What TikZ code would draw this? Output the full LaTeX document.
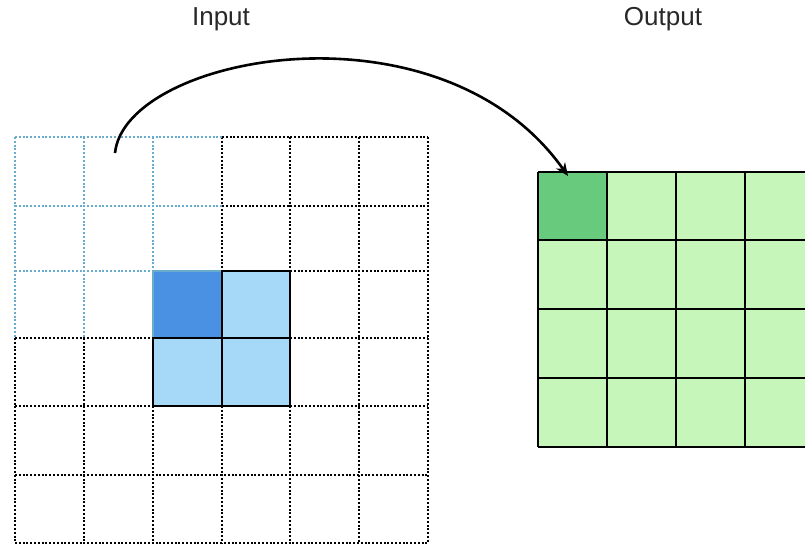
\documentclass[tikz,border=0pt]{standalone}
\usepackage{fontspec}
\setmainfont{Liberation Sans}
\usetikzlibrary{arrows.meta}
\definecolor{gridblue}{RGB}{105,172,205}
\definecolor{darkblue}{RGB}{74,145,228}
\definecolor{lightblue}{RGB}{166,216,248}
\definecolor{lightgreen}{RGB}{198,246,186}
\definecolor{darkgreen}{RGB}{103,202,124}
\definecolor{labelgray}{RGB}{40,40,40}
\tikzset{
  blackdot/.style={black, line width=2.2pt, dash pattern=on 2pt off 1.8pt},
  bluedot/.style={gridblue, line width=2.2pt, dash pattern=on 2pt off 1.8pt},
  solidedge/.style={black, line width=2.8pt, line cap=rect},
  outedge/.style={black, line width=2.5pt},
  title/.style={font=\fontsize{26}{31}\selectfont, text=labelgray, inner sep=0pt},
  arrowline/.style={black, line width=2.6pt, -{Stealth[length=13pt,width=11pt]}}
}
\begin{document}
\begin{tikzpicture}[x=1pt,y=-1pt]
\useasboundingbox (0,0) rectangle (805,544);
% column / row positions of the input grid
\def\cA{15}\def\cB{84}\def\cC{153}\def\cD{222}\def\cE{290}\def\cF{359}\def\cG{428}
\def\rA{137}\def\rB{206}\def\rC{271}\def\rD{338}\def\rE{406}\def\rF{475}\def\rG{543}
% fills
\fill[darkblue] (\cC,\rC) rectangle (\cD,\rD);
\fill[lightblue] (\cD,\rC) rectangle (\cE,\rD);
\fill[lightblue] (\cC,\rD) rectangle (\cE,\rE);
% black dotted grid parts
\foreach \y in {\rA,\rB} \draw[blackdot] (\cD,\y) -- (\cG,\y);
\draw[blackdot] (\cE,\rC) -- (\cG,\rC);
\foreach \y in {\rD,\rE} {\draw[blackdot] (\cA,\y) -- (\cC,\y); \draw[blackdot] (\cE,\y) -- (\cG,\y);}
\foreach \y in {\rF,\rG} \draw[blackdot] (\cA,\y) -- (\cG,\y);
\foreach \x in {\cA,\cB} \draw[blackdot] (\x,\rD) -- (\x,\rG);
\draw[blackdot] (\cC,\rE) -- (\cC,\rG);
\foreach \x in {\cD,\cE} {\draw[blackdot] (\x,\rA) -- (\x,\rC); \draw[blackdot] (\x,\rE) -- (\x,\rG);}
\foreach \x in {\cF,\cG} \draw[blackdot] (\x,\rA) -- (\x,\rG);
% light blue dotted receptive field
\foreach \y in {\rA,\rB} \draw[bluedot] (\cA,\y) -- (\cD,\y);
\draw[bluedot] (\cA,\rC) -- (\cC,\rC);
\foreach \x in {\cA,\cB} \draw[bluedot] (\x,\rA) -- (\x,\rD);
\draw[bluedot] (\cC,\rA) -- (\cC,\rC);
\draw[gridblue, line width=1.2pt] (\cC,\rD) -- (\cC,\rC) -- (\cD,\rC);
% solid black 2x2 window edges
\draw[solidedge] (\cD,\rD) -- (\cD,\rC) -- (\cE,\rC) -- (\cE,\rE) -- (\cC,\rE) -- (\cC,\rD) -- (\cE,\rD);
\draw[solidedge] (\cD,\rD) -- (\cD,\rE);
% output grid (clipped at the right edge)
\begin{scope}
\clip (0,0) rectangle (805,544);
\fill[lightgreen] (538,172) rectangle (814,447);
\node[name=outcell, fill=darkgreen, draw=none, minimum width=69pt, minimum height=68pt, inner sep=0pt, anchor=north west] at (538,172) {};
\foreach \x in {538,607,676,745,814} \draw[outedge] (\x,172) -- (\x,447);
\foreach \y in {172,240,309,378,447} \draw[outedge] (538,\y) -- (814,\y);
\end{scope}
% labels
\node[title, name=inlabel] at (221,19) {Input};
\node[title, name=outlabel] at (663,19) {Output};
% arrow
\coordinate (src) at (115,153);
\coordinate (dst) at (568,176);
\draw[arrowline] (src) .. controls (125,55) and (440,-5) .. (dst);
\end{tikzpicture}
\end{document}
